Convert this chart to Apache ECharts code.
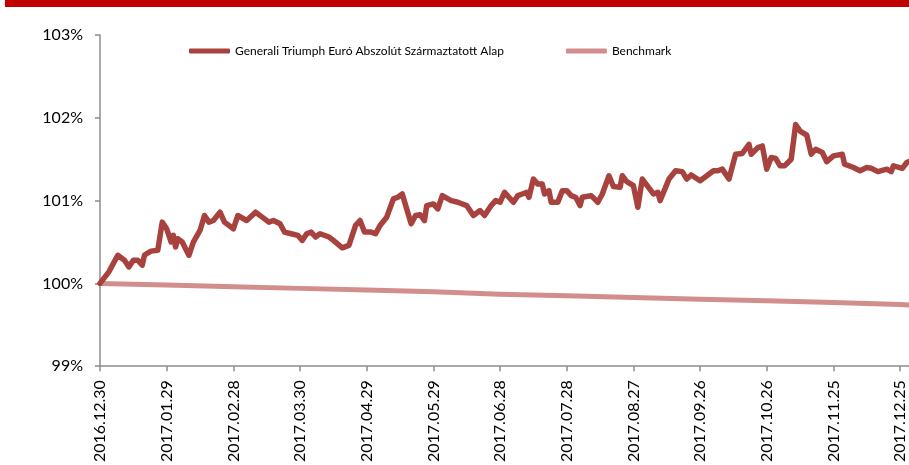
<!DOCTYPE html>
<html>
<head>
<meta charset="utf-8">
<script src="https://cdn.jsdelivr.net/npm/echarts@6/dist/echarts.min.js"></script>
<style>
  html, body { margin: 0; padding: 0; background: #ffffff; }
  #chart { width: 909px; height: 465px; }
</style>
</head>
<body>
<div id="chart"></div>
<script>
// Series names
const fundName = 'Generali Triumph Euró Abszolút Származtatott Alap';
const benchName = 'Benchmark';

// Calendar-day axis: 2016.12.30 .. 2017.12.29, labelled every 30 days
const startYear = 2016, startMonth = 12, startDay = 30;
const dayCount = 365;
const labelEvery = 30;

// Fund performance (%), by day offset from 2016.12.30
const fundDays = [
  0, 4, 8, 11, 13, 15, 17, 19, 20, 21, 23, 26, 28, 30, 31, 32, 33, 34, 35, 37,
  40, 42, 45, 47, 49, 51, 54, 56, 60, 62, 66, 70, 73, 76, 78, 81, 83, 86, 89, 91,
  93, 95, 97, 99, 103, 105, 109, 112, 115, 117, 119, 122, 124, 126, 129, 132, 134, 136, 138, 140,
  142, 144, 146, 147, 150, 152, 154, 158, 161, 165, 168, 171, 173, 176, 178, 180, 182, 186, 188, 190,
  192, 193, 195, 197, 199, 200, 202, 203, 206, 208, 210, 212, 214, 216, 217, 221, 224, 226, 229, 231,
  234, 235, 237, 240, 242, 244, 249, 251, 252, 256, 259, 262, 264, 266, 270, 272, 276, 278, 280, 283,
  285, 286, 289, 292, 293, 296, 298, 300, 302, 304, 306, 308, 311, 313, 315, 318, 320, 322, 325, 327,
  330, 334, 335, 339, 342, 345, 347, 350, 354, 356, 357, 361, 363, 364
];
const fundValues = [
  100.00, 100.14, 100.34, 100.28, 100.20, 100.28, 100.28, 100.22, 100.34, 100.36, 100.39, 100.40, 100.74, 100.66, 100.58, 100.50, 100.58, 100.44, 100.54, 100.50,
  100.34, 100.50, 100.64, 100.82, 100.74, 100.76, 100.86, 100.74, 100.66, 100.82, 100.76, 100.86, 100.80, 100.74, 100.76, 100.72, 100.62, 100.60, 100.58, 100.52,
  100.60, 100.62, 100.56, 100.60, 100.56, 100.52, 100.43, 100.46, 100.70, 100.76, 100.62, 100.62, 100.60, 100.70, 100.80, 101.02, 101.04, 101.08, 100.90, 100.72,
  100.82, 100.83, 100.76, 100.94, 100.96, 100.90, 101.06, 101.00, 100.98, 100.94, 100.82, 100.88, 100.82, 100.94, 101.00, 100.98, 101.10, 100.98, 101.06, 101.08,
  101.10, 101.04, 101.26, 101.20, 101.20, 101.08, 101.12, 100.98, 100.98, 101.12, 101.12, 101.06, 101.04, 100.94, 101.04, 101.06, 100.98, 101.08, 101.30, 101.17,
  101.16, 101.30, 101.23, 101.18, 100.92, 101.26, 101.08, 101.10, 101.00, 101.26, 101.36, 101.35, 101.26, 101.31, 101.24, 101.28, 101.36, 101.36, 101.38, 101.26,
  101.46, 101.56, 101.57, 101.68, 101.56, 101.64, 101.66, 101.38, 101.52, 101.51, 101.42, 101.42, 101.50, 101.92, 101.84, 101.79, 101.56, 101.62, 101.58, 101.47,
  101.54, 101.56, 101.44, 101.40, 101.36, 101.40, 101.39, 101.35, 101.38, 101.35, 101.42, 101.39, 101.46, 101.47
];

// Benchmark (%), by day offset
const benchDays = [0, 30, 60, 90, 120, 150, 180, 210, 240, 270, 300, 330, 360, 364];
const benchValues = [100.00, 99.98, 99.96, 99.94, 99.92, 99.90, 99.87, 99.85, 99.83, 99.81, 99.79, 99.77, 99.745, 99.74];

// Value axis
const yMin = 99, yMax = 103, yStep = 1;

function pad2(n) { return (n < 10 ? '0' : '') + n; }
const categories = [];
for (let i = 0; i < dayCount; i++) {
  const d = new Date(Date.UTC(startYear, startMonth - 1, startDay + i));
  categories.push(d.getUTCFullYear() + '.' + pad2(d.getUTCMonth() + 1) + '.' + pad2(d.getUTCDate()));
}

const fundData = fundDays.map((d, i) => [d, fundValues[i]]);
const benchData = benchDays.map((d, i) => [d, benchValues[i]]);

const axisGrey = '#8c8c8c';
const textFont = 'Lato';

const chart = echarts.init(document.getElementById('chart'), null, { renderer: 'canvas' });
chart.setOption({
  animation: false,
  backgroundColor: '#ffffff',
  graphic: [{
    type: 'rect',
    left: 5, top: 0,
    shape: { width: 904, height: 7 },
    style: { fill: '#c00000' }
  }],
  grid: { left: 100, right: 0, top: 35, bottom: 97, containLabel: false },
  legend: {
    data: [fundName, benchName],
    left: 184,
    top: 40,
    icon: 'roundRect',
    itemWidth: 41,
    itemHeight: 5,
    itemGap: 62,
    textStyle: { fontFamily: textFont, fontSize: 12, color: '#000000' }
  },
  xAxis: {
    type: 'category',
    data: categories,
    boundaryGap: false,
    axisLine: { lineStyle: { color: axisGrey, width: 1.5 } },
    axisTick: { show: true, interval: labelEvery - 1, length: 5, lineStyle: { color: axisGrey, width: 1.5 } },
    axisLabel: {
      interval: labelEvery - 1,
      rotate: 90,
      margin: 14,
      fontFamily: textFont,
      fontSize: 16,
      color: '#000000'
    },
    splitLine: { show: false }
  },
  yAxis: {
    type: 'value',
    min: yMin,
    max: yMax,
    interval: yStep,
    axisLine: { show: true, lineStyle: { color: axisGrey, width: 1.5 } },
    axisTick: { show: true, length: 5, lineStyle: { color: axisGrey, width: 1.5 } },
    axisLabel: {
      formatter: '{value}%',
      margin: 17,
      fontFamily: textFont,
      fontSize: 16,
      color: '#000000'
    },
    splitLine: { show: false }
  },
  series: [
    {
      name: fundName,
      type: 'line',
      data: fundData,
      showSymbol: false,
      symbol: 'none',
      z: 3,
      itemStyle: { color: '#a8423e' },
      lineStyle: { color: '#a8423e', width: 5.5, cap: 'round', join: 'round' }
    },
    {
      name: benchName,
      type: 'line',
      data: benchData,
      showSymbol: false,
      symbol: 'none',
      z: 2,
      itemStyle: { color: '#d18e8c' },
      lineStyle: { color: '#d18e8c', width: 5, cap: 'round', join: 'round' }
    }
  ]
});
</script>
</body>
</html>
